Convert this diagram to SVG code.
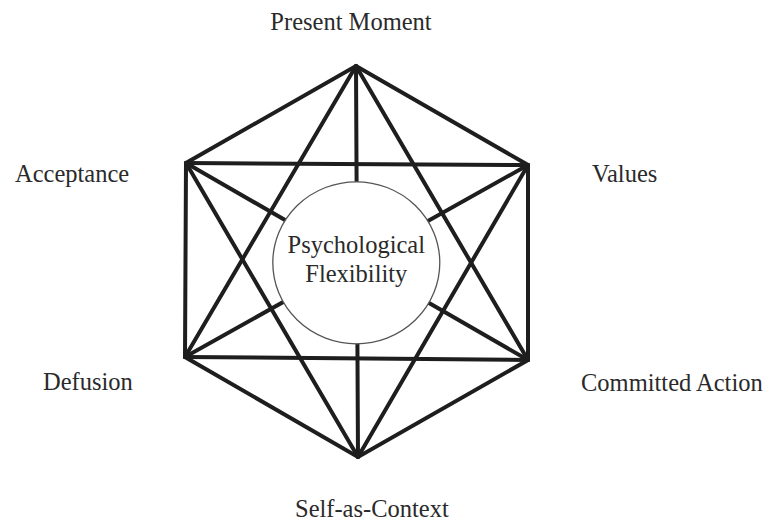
<svg xmlns="http://www.w3.org/2000/svg" width="769" height="523" viewBox="0 0 769 523">
<style>
.e{stroke:#1e1e1e;stroke-width:4;stroke-linecap:round;fill:none}
.t{font-family:"Liberation Serif","Times New Roman",serif;font-size:24.5px;fill:#2a2a2a}
</style>
<rect width="769" height="523" fill="#fff"/>
<g id="connectors">
<polygon class="e" stroke-linejoin="miter" points="356,66 528,165 528,360 358,457 185,357 186,163"/>
<line class="e" x1="356" y1="66" x2="528" y2="360"/>
<line class="e" x1="356" y1="66" x2="185" y2="357"/>
<line class="e" x1="185" y1="357" x2="528" y2="360"/>
<line class="e" x1="358" y1="457" x2="186" y2="163"/>
<line class="e" x1="358" y1="457" x2="528" y2="165"/>
<line class="e" x1="186" y1="163" x2="528" y2="165"/>
<line class="e" x1="356" y1="66" x2="358" y2="457"/>
<line class="e" x1="186" y1="163" x2="528" y2="360"/>
<line class="e" x1="528" y1="165" x2="185" y2="357"/>
</g>
<g id="center">
<ellipse cx="356.3" cy="262.8" rx="83.5" ry="81" fill="#fff" stroke="#555" stroke-width="1.3"/>
<text class="t" x="356.3" y="253" text-anchor="middle">Psychological</text>
<text class="t" x="356.3" y="281.5" text-anchor="middle">Flexibility</text>
</g>
<g id="present-moment"><text class="t" x="351" y="30" text-anchor="middle">Present Moment</text></g>
<g id="acceptance"><text class="t" x="15" y="182">Acceptance</text></g>
<g id="values"><text class="t" x="592" y="182">Values</text></g>
<g id="defusion"><text class="t" x="43" y="390">Defusion</text></g>
<g id="committed-action"><text class="t" x="581" y="390.5">Committed Action</text></g>
<g id="self-as-context"><text class="t" x="295" y="516.5">Self-as-Context</text></g>
</svg>
